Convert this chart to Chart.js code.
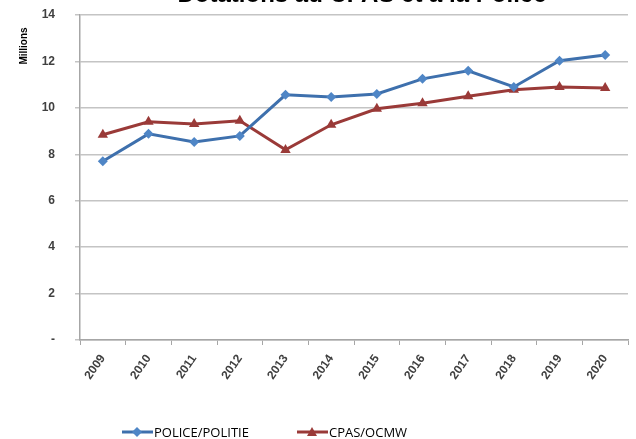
<!DOCTYPE html>
<html>
<head>
<meta charset="utf-8">
<script src="https://cdn.jsdelivr.net/npm/chart.js@4/dist/chart.umd.min.js"></script>
<style>
    html, body { margin: 0; padding: 0; background: #ffffff; }
    #wrap { width: 636px; height: 439px; position: relative; }
</style>
</head>
<body>
<div id="wrap"><canvas id="chart" width="636" height="439"></canvas></div>
<script>
/* =====================================
   Chart data
===================================== */
const years = ["2009", "2010", "2011", "2012", "2013", "2014", "2015", "2016", "2017", "2018", "2019", "2020"];
const police = [7.70, 8.88, 8.53, 8.79, 10.56, 10.47, 10.60, 11.25, 11.60, 10.90, 12.03, 12.28];
const cpas = [8.84, 9.40, 9.30, 9.44, 8.19, 9.27, 9.96, 10.20, 10.50, 10.78, 10.90, 10.86];
const yTicks = [0, 2, 4, 6, 8, 10, 12, 14];

const chartTitle = "Dotations au CPAS et à la Police";
const yTitle = "Millions";
const policeLabel = "POLICE/POLITIE";
const cpasLabel = "CPAS/OCMW";

const blueLine = "#3e70ad";
const blueMark = "#4f86c6";
const redLine = "#9a3a38";
const redMark = "#9a3a38";


/* =====================================
   Extra text + legend (drawn by hand)
===================================== */
const extrasPlugin = {
    id: "extras",
    afterDraw(chart) {
        const ctx = chart.ctx;
        ctx.save();

        // title, mostly cut off at the top edge
        ctx.fillStyle = "#000000";
        ctx.font = "bold 24px 'Liberation Sans', Arial, sans-serif";
        ctx.textAlign = "center";
        ctx.textBaseline = "alphabetic";
        ctx.fillText(chartTitle, 362, 2);

        // y axis title
        ctx.save();
        ctx.translate(24, 46);
        ctx.rotate(-Math.PI / 2);
        ctx.font = "bold 10px 'Liberation Sans', Arial, sans-serif";
        ctx.textAlign = "center";
        ctx.textBaseline = "middle";
        ctx.fillText(yTitle, 0, 0);
        ctx.restore();

        // legend
        const items = [
            { text: policeLabel, line: blueLine, mark: blueMark, shape: "diamond", x: 122 },
            { text: cpasLabel, line: redLine, mark: redMark, shape: "triangle", x: 297 }
        ];
        const ly = 432;
        ctx.font = "13px 'Open Sans', sans-serif";
        ctx.textAlign = "left";
        ctx.textBaseline = "middle";
        items.forEach(it => {
            ctx.strokeStyle = it.line;
            ctx.lineWidth = 3;
            ctx.beginPath();
            ctx.moveTo(it.x, ly);
            ctx.lineTo(it.x + 31, ly);
            ctx.stroke();

            ctx.fillStyle = it.mark;
            ctx.beginPath();
            const cx = it.x + 15;
            if (it.shape === "diamond") {
                ctx.moveTo(cx, ly - 5);
                ctx.lineTo(cx + 5, ly);
                ctx.lineTo(cx, ly + 5);
                ctx.lineTo(cx - 5, ly);
            } else {
                ctx.moveTo(cx, ly - 5);
                ctx.lineTo(cx + 5, ly + 4);
                ctx.lineTo(cx - 5, ly + 4);
            }
            ctx.closePath();
            ctx.fill();

            ctx.fillStyle = "#000000";
            ctx.fillText(it.text, it.x + 32, ly + 1);
        });

        ctx.restore();
    }
};


/* =====================================
   Line chart
===================================== */
const ctx = document.getElementById("chart");

new Chart(ctx, {
    type: "line",
    data: {
        labels: years,
        datasets: [
            {
                label: policeLabel,
                data: police,
                borderColor: blueLine,
                backgroundColor: blueMark,
                borderWidth: 3,
                pointStyle: "rectRot",
                pointRadius: 5,
                pointBorderWidth: 0,
                tension: 0
            },
            {
                label: cpasLabel,
                data: cpas,
                borderColor: redLine,
                backgroundColor: redMark,
                borderWidth: 3,
                pointStyle: "triangle",
                pointRadius: 6,
                pointBorderWidth: 0,
                tension: 0
            }
        ]
    },
    options: {
        responsive: false,
        animation: false,
        layout: { autoPadding: false, padding: { top: 15, right: 8, left: 0, bottom: 0 } },
        plugins: {
            legend: { display: false },
            title: { display: false },
            tooltip: { enabled: false }
        },
        scales: {
            x: {
                offset: true,
                afterFit: function (scale) {
                    scale.height = 99;
                    scale.paddingTop = 0;
                },
                grid: {
                    offset: true,
                    drawOnChartArea: false,
                    tickLength: 5,
                    color: "#a6a6a6"
                },
                border: { color: "#a6a6a6", width: 1.5 },
                ticks: {
                    minRotation: 55,
                    maxRotation: 55,
                    padding: 7,
                    color: "#404040",
                    font: { family: "'Liberation Sans', Arial, sans-serif", size: 12, weight: "bold" }
                }
            },
            y: {
                min: 0,
                max: 14,
                afterFit: function (scale) {
                    scale.width = 80;
                    scale.paddingTop = 0;
                },
                afterBuildTicks: function (scale) {
                    scale.ticks = yTicks.map(v => ({ value: v }));
                },
                grid: {
                    color: "#c4c4c4",
                    lineWidth: 1.5,
                    tickLength: 5
                },
                border: { color: "#a6a6a6", width: 1.5 },
                ticks: {
                    padding: 20,
                    color: "#404040",
                    font: { family: "'Liberation Sans', Arial, sans-serif", size: 12, weight: "bold" },
                    callback: function (value) {
                        return value === 0 ? "-" : value;
                    }
                }
            }
        }
    },
    plugins: [extrasPlugin]
});
</script>
</body>
</html>
